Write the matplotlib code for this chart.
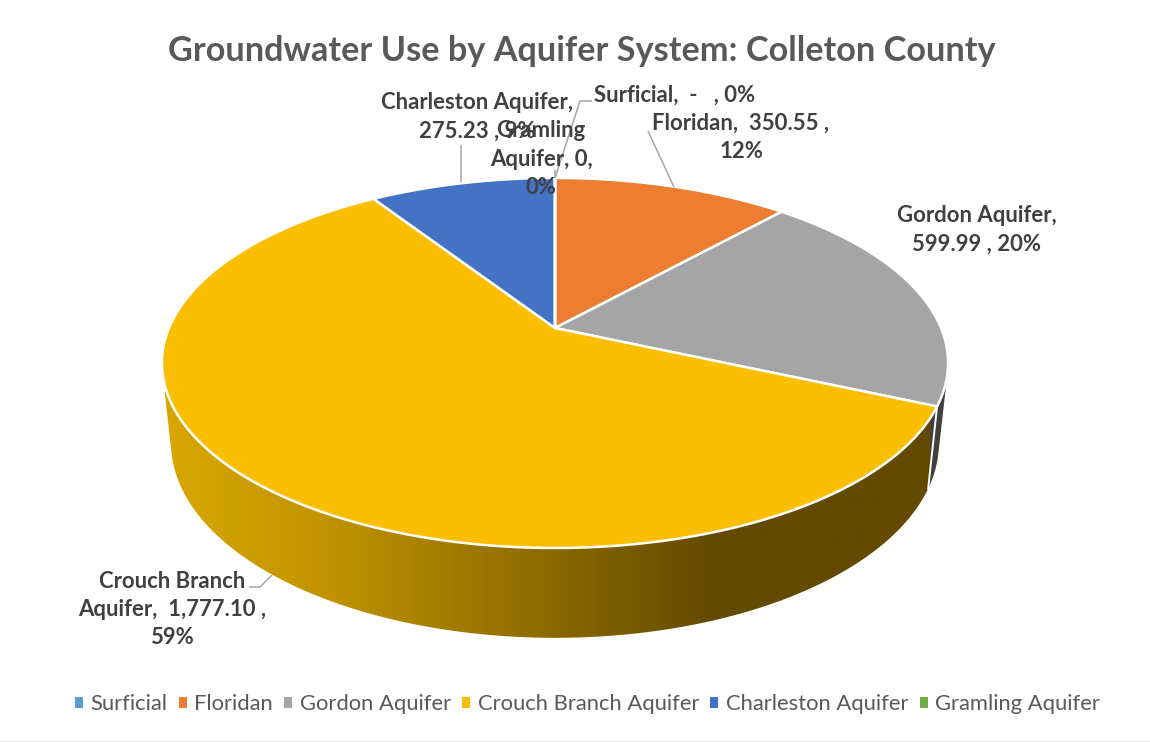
import numpy as np
import matplotlib
matplotlib.use("Agg")
import matplotlib.pyplot as plt
from matplotlib.colors import LinearSegmentedColormap
from matplotlib.patches import Polygon, Rectangle
from matplotlib.path import Path
from matplotlib.transforms import Affine2D, Transform

plt.rcParams['font.family'] = ['Lato', 'DejaVu Sans']

# Groundwater use per aquifer
aquifers = ["Surficial", "Floridan", "Gordon Aquifer", "Crouch Branch Aquifer",
            "Charleston Aquifer", "Gramling Aquifer"]
use = [0, 350.55, 599.99, 1777.10, 275.23, 0]
colors = ["#5B9BD5", "#ED7D31", "#A5A5A5", "#FBBE00", "#4472C4", "#70AD47"]
data_labels = ["Surficial,  -   , 0%", "Floridan,  350.55 ,\n12%",
               "Gordon Aquifer,\n599.99 , 20%",
               "Crouch Branch\nAquifer,  1,777.10 ,\n59%",
               "Charleston Aquifer,\n275.23 , 9%",
               "Gramling\nAquifer, 0,\n0%"]
label_xy = [(675, 95), (741, 137), (977, 230), (172, 609.5), (477, 117), (541, 159)]
leaders = [[(555, 178), (580, 101), (592, 101)],
           [(674, 187), (648, 131)],
           [(272, 575), (260, 587), (249, 587)],
           [(461, 182), (461, 145)],
           [(555, 178), (555, 170)]]


class TiltedDisc(Transform):
    """Perspective view of the unit disc, onto figure pixel coordinates."""
    input_dims = output_dims = 2

    def __init__(self, cx, cy, a, b, k):
        super().__init__()
        self.cx, self.cy, self.a, self.b, self.k = cx, cy, a, b, k

    def transform_non_affine(self, values):
        values = np.asarray(values, dtype=float)
        w = 1 + self.k * values[:, 1]
        return np.column_stack((self.cx + self.a * values[:, 0] / w,
                                self.cy - self.b * values[:, 1] / w))

    def transform_path_non_affine(self, path):
        # curves are flattened first so the arcs stay true under the projection
        scaled = path.transformed(Affine2D().scale(2000))
        polys = scaled.to_polygons(closed_only=False)
        if not polys:
            return Path(self.transform_non_affine(path.vertices))
        return Path(self.transform_non_affine(polys[0] / 2000))


top = TiltedDisc(555, 328, 386, 178.4, 0.189)
base = TiltedDisc(555, 406, 377, 188, 0.189)


def arc(theta1, theta2, n=200):
    t = np.radians(np.linspace(theta1, theta2, n))
    return np.column_stack((np.cos(t), np.sin(t)))


def convex_hull(points):
    """Monotone-chain hull; gives the outline swept between the two rims."""
    pts = sorted(map(tuple, points))

    def half(seq):
        chain = []
        for p in seq:
            while len(chain) > 1:
                (x1, y1), (x2, y2) = chain[-2], chain[-1]
                if (x2 - x1) * (p[1] - y1) - (y2 - y1) * (p[0] - x1) > 0:
                    break
                chain.pop()
            chain.append(p)
        return chain[:-1]

    return np.array(half(pts) + half(pts[::-1]))


fig = plt.figure(figsize=(11.5, 7.42), dpi=100, facecolor="white")
ax = fig.add_axes([0, 0, 1, 1])

wedges, _ = ax.pie(use, colors=colors, startangle=90, counterclock=False,
                   wedgeprops=dict(edgecolor="white", linewidth=1.8))
ax.set_aspect("auto")
ax.axis("off")

for w in wedges:
    w.set_transform(top + ax.transData)
    w.set_zorder(5)

# Side walls follow the same slice angles as the top face
shade = LinearSegmentedColormap.from_list(
    "wall", [(0, "#D9A700"), (0.2, "#C29500"), (0.72, "#634A00"), (1, "#634A00")])
for w, name in zip(wedges, aquifers):
    if w.theta2 - w.theta1 < 1e-9:
        continue
    rim = arc(w.theta1, w.theta2)
    upper = top.transform_non_affine(rim)
    lower = base.transform_non_affine(rim)
    outline = convex_hull(np.vstack((upper, lower)))
    if name == "Crouch Branch Aquifer":
        wall = Polygon(outline, closed=True, facecolor="none", edgecolor="none", zorder=3)
        ax.add_patch(wall)
        grad = ax.imshow(np.linspace(0, 1, 512)[None, :], cmap=shade, aspect="auto",
                         extent=(165, 930, 650, 300), zorder=3)
        grad.set_clip_path(wall)
        # seam where this wall meets the next slice's wall
        ax.plot([upper[-1, 0], lower[-1, 0]], [upper[-1, 1], lower[-1, 1]],
                color="white", lw=1.4, zorder=4)
    elif name == "Gordon Aquifer":
        ax.add_patch(Polygon(outline, closed=True, facecolor="#404040", edgecolor="none",
                             zorder=2))
ax.set_xlim(0, 1150)
ax.set_ylim(742, 0)

for pts in leaders:
    xs, ys = zip(*pts)
    ax.plot(xs, ys, color="#A6A6A6", lw=1.1, zorder=6, solid_capstyle="butt")

for text, (x, y) in zip(data_labels, label_xy):
    ax.text(x, y, text, ha="center", va="center", fontsize=15.9, fontweight="bold",
            color="#404040", linespacing=1.43, zorder=7)

ax.text(581.5, 51, "Groundwater Use by Aquifer System: Colleton County", ha="center",
        va="center", fontsize=24.7, fontweight="bold", color="#595959")

handles = [Rectangle((0, 0), 1, 1, facecolor=c) for c in colors]
fig.legend(handles, aquifers, ncol=6, loc="center", bbox_to_anchor=(587.5 / 1150, 1 - 704.5 / 742),
           frameon=False, fontsize=15.8, labelcolor="#595959", handlelength=0.37, handleheight=0.37,
           handletextpad=0.35, columnspacing=0.5, borderpad=0)

# thin frame of the chart area
ax.plot([0, 1150], [740.5, 740.5], color="#E8E8E8", lw=1)

fig.savefig("out.png", dpi=100)
